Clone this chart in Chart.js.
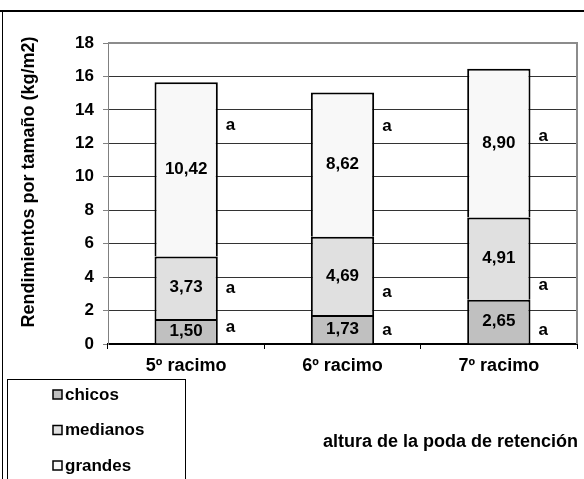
<!DOCTYPE html>
<html>
<head>
<meta charset="utf-8">
<script src="https://cdn.jsdelivr.net/npm/chart.js@4/dist/chart.umd.min.js"></script>
<style>
  body { margin: 0; background: #fff; }
</style>
</head>
<body>
<canvas id="chart" width="584" height="479"></canvas>
<script>
// categories and series
const categories = ['5º racimo', '6º racimo', '7º racimo'];
const chicos = [1.50, 1.73, 2.65];
const medianos = [3.73, 4.69, 4.91];
const grandes = [10.42, 8.62, 8.90];
// significance letters, and the value (y) they sit at
const letters = [['a', 'a', 'a'], ['a', 'a', 'a'], ['a', 'a', 'a']];
const letterAt = [[1.0, 0.84, 0.84], [3.35, 3.1, 3.5], [13.1, 13.0, 12.4]];
const yTicks = [0, 2, 4, 6, 8, 10, 12, 14, 16, 18];

const family = '"Liberation Sans", Arial, sans-serif';
const font = 'bold 17px ' + family;

const labelsPlugin = {
  id: 'labels',
  afterDatasetsDraw(chart) {
    const ctx = chart.ctx;
    const y = chart.scales.y;
    ctx.save();
    ctx.font = font;
    ctx.fillStyle = '#000';
    chart.data.datasets.forEach((ds, i) => {
      const meta = chart.getDatasetMeta(i);
      meta.data.forEach((bar, j) => {
        const mid = (bar.y + bar.base) / 2;
        ctx.textAlign = 'center';
        ctx.textBaseline = 'middle';
        ctx.fillText(ds.data[j].toFixed(2).replace('.', ','), bar.x, mid);
        ctx.textAlign = 'left';
        ctx.fillText(letters[i][j], bar.x + bar.width / 2 + 8, y.getPixelForValue(letterAt[i][j]));
      });
    });
    ctx.restore();
  },
  afterDraw(chart) {
    const ctx = chart.ctx;
    const a = chart.chartArea;
    ctx.save();
    // plot frame top/right
    ctx.strokeStyle = '#8c8c8c';
    ctx.lineWidth = 2;
    ctx.beginPath();
    ctx.moveTo(a.left, a.top);
    ctx.lineTo(a.right, a.top);
    ctx.lineTo(a.right, a.bottom);
    ctx.stroke();
    // outer frame
    ctx.strokeStyle = '#000';
    ctx.lineWidth = 2;
    ctx.beginPath();
    ctx.moveTo(0, 11);
    ctx.lineTo(584, 11);
    ctx.stroke();
    ctx.lineWidth = 1;
    ctx.beginPath();
    ctx.moveTo(2.5, 11);
    ctx.lineTo(2.5, 479);
    ctx.stroke();
    // y title
    ctx.fillStyle = '#000';
    ctx.font = 'bold 18px ' + family;
    ctx.textAlign = 'center';
    ctx.textBaseline = 'middle';
    ctx.save();
    ctx.translate(29, 182);
    ctx.rotate(-Math.PI / 2);
    ctx.fillText('Rendimientos por tamaño (kg/m2)', 0, 0);
    ctx.restore();
    // legend box
    ctx.strokeRect(7.5, 379.5, 178, 110);
    ctx.font = font;
    ctx.textAlign = 'left';
    chart.data.datasets.forEach((ds, k) => {
      const yy = 395 + k * 35.5;
      ctx.fillStyle = ds.backgroundColor;
      ctx.fillRect(53, yy - 5, 9, 9);
      ctx.strokeStyle = '#000';
      ctx.lineWidth = 1.5;
      ctx.strokeRect(53, yy - 5, 9, 9);
      ctx.fillStyle = '#000';
      ctx.fillText(ds.label, 65, yy);
    });
    // x axis title
    ctx.font = 'bold 18px ' + family;
    ctx.textAlign = 'right';
    ctx.fillText('altura de la poda de retención', 578, 442);
    ctx.restore();
  }
};

new Chart(document.getElementById('chart'), {
  type: 'bar',
  data: {
    labels: categories,
    datasets: [
      { label: 'chicos', data: chicos, backgroundColor: '#c0c0c0' },
      { label: 'medianos', data: medianos, backgroundColor: '#e0e0e0' },
      { label: 'grandes', data: grandes, backgroundColor: '#f8f8f8' }
    ].map(d => Object.assign(d, {
      borderColor: '#000',
      borderWidth: { top: 2, left: 2, right: 2, bottom: 0 },
      borderSkipped: false,
      categoryPercentage: 1, barPercentage: 0.405
    }))
  },
  options: {
    responsive: false,
    devicePixelRatio: 1,
    animation: false,
    layout: { padding: { top: 43, right: 7, left: 0, bottom: 0 } },
    plugins: { legend: { display: false }, tooltip: { enabled: false } },
    scales: {
      x: {
        stacked: true,
        afterFit: s => { s.height = 135; },
        grid: { offset: true, drawOnChartArea: false, tickLength: 5, color: '#000' },
        border: { color: '#000', width: 2 },
        ticks: { color: '#000', padding: 6, font: { family: family, weight: 'bold', size: 18 } }
      },
      y: {
        stacked: true,
        min: 0, max: 18,
        afterFit: s => { s.width = 108; },
        afterBuildTicks: s => { s.ticks = yTicks.map(v => ({ value: v })); },
        grid: { color: '#333', tickLength: 5, tickColor: '#808080' },
        border: { color: '#808080', width: 1 },
        ticks: { color: '#000', padding: 9, font: { family: family, weight: 'bold', size: 17 } }
      }
    }
  },
  plugins: [labelsPlugin]
});
</script>
</body>
</html>
